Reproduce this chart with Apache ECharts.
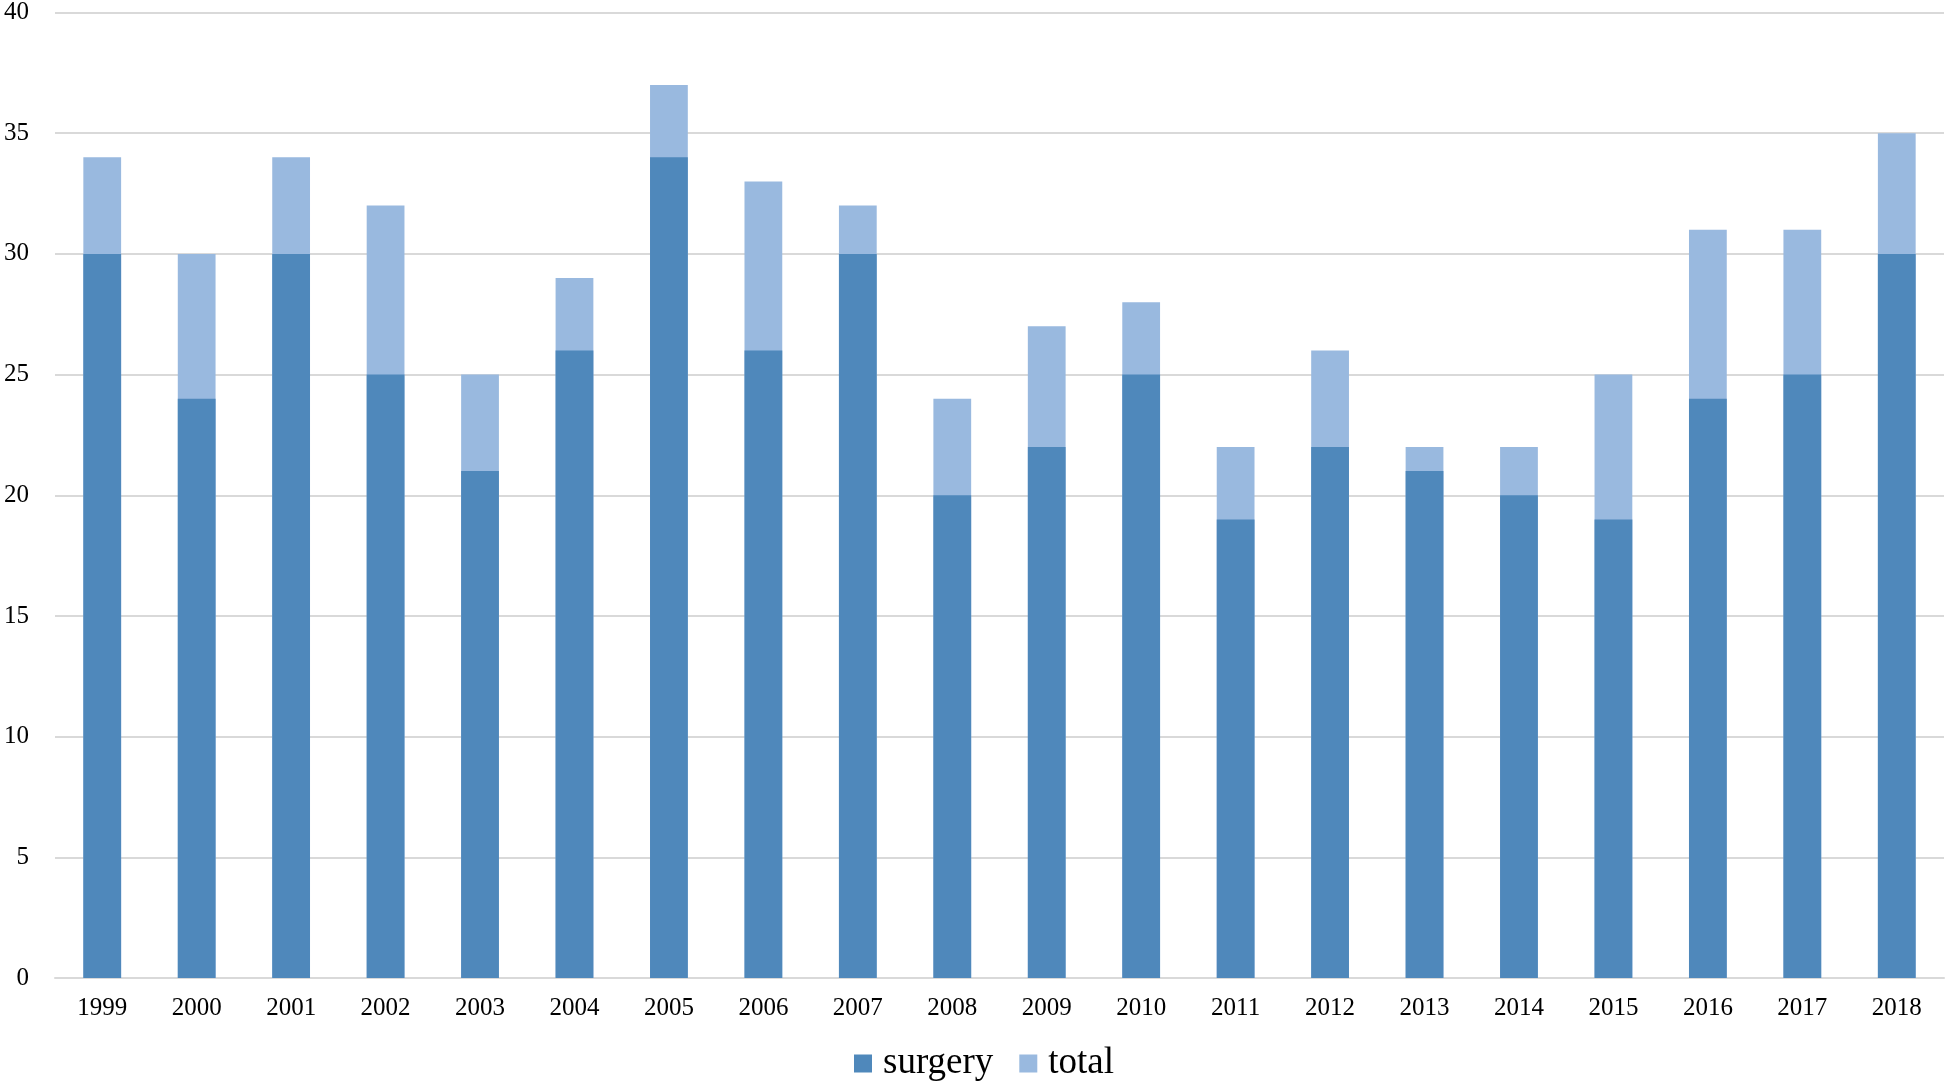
<!DOCTYPE html>
<html>
<head>
<meta charset="utf-8">
<script src="https://cdn.jsdelivr.net/npm/echarts@6/dist/echarts.min.js"></script>
<style>html,body{margin:0;padding:0;background:#fff}#c{width:1946px;height:1082px}</style>
</head>
<body>
<div id="c"></div>
<script>
const years = ['1999','2000','2001','2002','2003','2004','2005','2006','2007','2008','2009','2010','2011','2012','2013','2014','2015','2016','2017','2018'];
const surgery = [30,24,30,25,21,26,34,26,30,20,22,25,19,22,21,20,19,24,25,30];
const total = [34,30,34,32,25,29,37,33,32,24,27,28,22,26,22,22,25,31,31,35];
const yTicks = [0,5,10,15,20,25,30,35,40];

const chart = echarts.init(document.getElementById('c'));
const font = '"Liberation Serif", "Times New Roman", serif';
chart.setOption({
  animation: false,
  grid: {left: 55, right: 2, top: 11, bottom: 104},
  legend: {
    data: [
      {name: 'surgery', icon: 'rect'},
      {name: 'total', icon: 'rect'}
    ],
    bottom: -5,
    left: 849,
    itemWidth: 18, itemHeight: 18, itemGap: 26,
    textStyle: {fontFamily: font, fontSize: 37, color: '#000', padding: [0,0,0,6]}
  },
  xAxis: {
    type: 'category',
    data: years,
    axisLine: {lineStyle: {color: '#d9d9d9', width: 2}},
    axisTick: {show: false},
    axisLabel: {fontFamily: font, fontSize: 25, color: '#000', margin: 18}
  },
  yAxis: {
    type: 'value',
    min: yTicks[0], max: yTicks[yTicks.length-1], interval: 5,
    axisLine: {show: false},
    axisTick: {show: false},
    splitLine: {lineStyle: {color: '#d9d9d9', width: 2}},
    axisLabel: {fontFamily: font, fontSize: 25, color: '#000', margin: 26}
  },
  series: [
    {name: 'total', type: 'bar', data: total, barWidth: '40%', barGap: '-100%', z: 1,
     itemStyle: {color: '#99b9df'}},
    {name: 'surgery', type: 'bar', data: surgery, barWidth: '40%', barGap: '-100%', z: 2,
     itemStyle: {color: '#4f88bb'}}
  ]
});
</script>
</body>
</html>
